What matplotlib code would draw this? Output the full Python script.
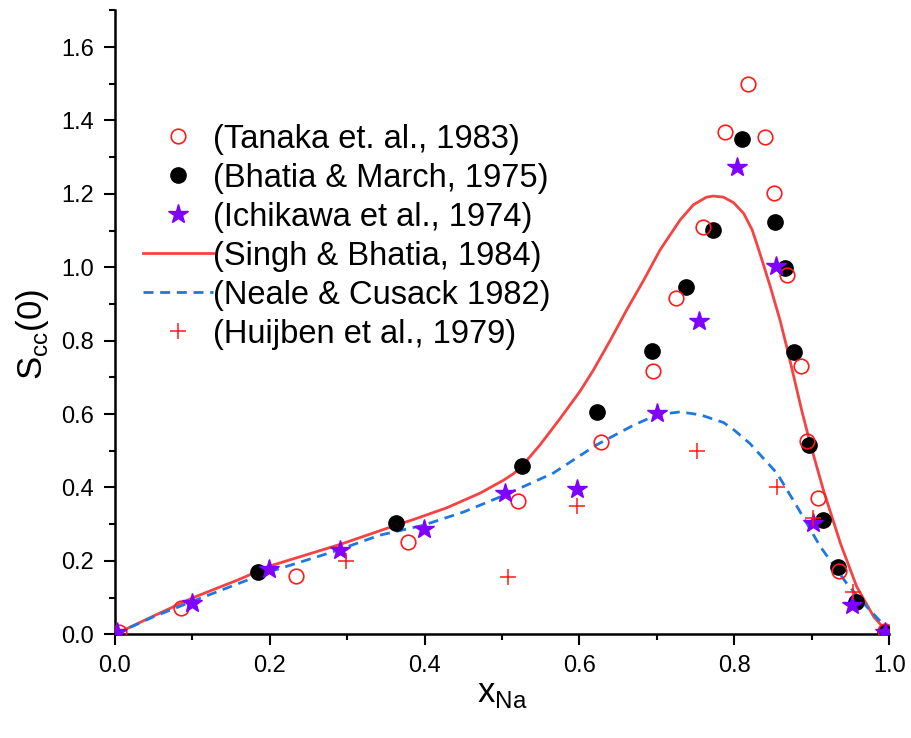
import numpy as np
import matplotlib
matplotlib.use("Agg")
import matplotlib.pyplot as plt
from matplotlib.ticker import MultipleLocator, FormatStrFormatter

plt.rcParams["font.family"] = ["Liberation Sans", "DejaVu Sans"]

# Tanaka et al. 1983 (open circles)
tanaka_x = [0.005, 0.085, 0.234, 0.379, 0.521, 0.628, 0.695, 0.725, 0.760, 0.788,
            0.817, 0.840, 0.851, 0.868, 0.886, 0.894, 0.908, 0.935, 0.995]
tanaka_y = [0.005, 0.072, 0.159, 0.252, 0.363, 0.524, 0.718, 0.917, 1.110, 1.369,
            1.499, 1.355, 1.203, 0.979, 0.731, 0.527, 0.372, 0.172, 0.008]

# Bhatia & March 1975 (filled circles)
bhatia_x = [0.185, 0.363, 0.526, 0.623, 0.694, 0.738, 0.773, 0.810, 0.853, 0.866,
            0.877, 0.897, 0.915, 0.934, 0.957, 0.995]
bhatia_y = [0.170, 0.303, 0.459, 0.606, 0.772, 0.947, 1.102, 1.350, 1.123, 0.998,
            0.769, 0.516, 0.311, 0.184, 0.088, 0.006]

# Ichikawa et al. 1974 (stars)
ichi_x = [0.003, 0.099, 0.199, 0.291, 0.399, 0.504, 0.597, 0.700, 0.755, 0.804,
          0.854, 0.901, 0.952, 0.995]
ichi_y = [0.005, 0.086, 0.178, 0.230, 0.287, 0.385, 0.396, 0.603, 0.854, 1.273,
          1.004, 0.304, 0.080, 0.006]

# Huijben et al. 1979 (plus)
huij_x = [0.299, 0.508, 0.597, 0.752, 0.855, 0.901, 0.953]
huij_y = [0.200, 0.157, 0.350, 0.500, 0.401, 0.317, 0.115]

# Singh & Bhatia 1984 (solid line)
singh_x = [0.0, 0.05, 0.10, 0.161, 0.20, 0.291, 0.342, 0.364, 0.386, 0.429,
           0.472, 0.502, 0.515, 0.526, 0.549, 0.575, 0.601, 0.618, 0.640, 0.661,
           0.683, 0.704, 0.730, 0.747, 0.764, 0.773, 0.786, 0.799, 0.812, 0.823,
           0.833, 0.846, 0.859, 0.868, 0.877, 0.887, 0.898, 0.915, 0.937, 0.958,
           0.980, 0.997]
singh_y = [0.0, 0.050, 0.099, 0.150, 0.186, 0.245, 0.282, 0.298, 0.313, 0.345,
           0.385, 0.420, 0.438, 0.459, 0.516, 0.588, 0.663, 0.720, 0.802, 0.884,
           0.965, 1.047, 1.129, 1.170, 1.191, 1.194, 1.191, 1.176, 1.147, 1.102,
           1.038, 0.950, 0.856, 0.780, 0.700, 0.610, 0.520, 0.393, 0.248, 0.130,
           0.048, 0.007]

# Neale & Cusack 1982 (dashed line)
neale_x = [0.0, 0.05, 0.11, 0.196, 0.282, 0.342, 0.398, 0.45, 0.504, 0.566,
           0.622, 0.670, 0.700, 0.730, 0.756, 0.786, 0.800, 0.820, 0.855, 0.881,
           0.911, 0.945, 0.971, 0.995]
neale_y = [0.0, 0.048, 0.098, 0.168, 0.225, 0.270, 0.297, 0.333, 0.380, 0.439,
           0.516, 0.570, 0.598, 0.606, 0.598, 0.577, 0.556, 0.520, 0.439, 0.348,
           0.239, 0.139, 0.075, 0.021]

fig = plt.figure(figsize=(9.12, 7.38), dpi=100)
ax = fig.add_axes([0.126, 0.1405, 0.849, 0.8455])

h_t, = ax.plot(tanaka_x, tanaka_y, "o", ms=10.5, mfc="none", mec="#ff1a1a", mew=1.2,
               zorder=4, label="(Tanaka et. al., 1983)")
h_b, = ax.plot(bhatia_x, bhatia_y, "o", ms=11, color="black", zorder=3,
               label="(Bhatia & March, 1975)")
h_i, = ax.plot(ichi_x, ichi_y, "*", ms=15, color="#8000ff", mec="#8000ff", zorder=5,
               label="(Ichikawa et al., 1974)")
h_s, = ax.plot(singh_x, singh_y, "-", color="#f54242", lw=2.0, zorder=2,
               label="(Singh & Bhatia, 1984)")
h_n, = ax.plot(neale_x, neale_y, "--", color="#1f78e0", lw=2.0, dashes=(3.6, 2.4),
               zorder=2, label="(Neale & Cusack 1982)")
h_h, = ax.plot(huij_x, huij_y, "+", ms=12, mew=1.1, color="#ff1a1a", zorder=6,
               label="(Huijben et al., 1979)")

ax.set_xlim(0, 1.0)
ax.set_ylim(0, 1.7)
ax.xaxis.set_major_locator(MultipleLocator(0.2))
ax.xaxis.set_minor_locator(MultipleLocator(0.1))
ax.yaxis.set_major_locator(MultipleLocator(0.2))
ax.yaxis.set_minor_locator(MultipleLocator(0.1))
ax.xaxis.set_major_formatter(FormatStrFormatter("%.1f"))
ax.yaxis.set_major_formatter(FormatStrFormatter("%.1f"))

for side in ["top", "right"]:
    ax.spines[side].set_visible(False)
for side in ["left", "bottom"]:
    ax.spines[side].set_linewidth(1.8)

ax.tick_params(which="major", direction="out", length=8, width=1.5,
               labelsize=17, pad=7)
ax.tick_params(which="minor", direction="out", length=4.5, width=1.5)

ax.set_xlabel("x$_\\mathregular{Na}$", fontsize=25, labelpad=0)
ax.set_ylabel("S$_\\mathregular{cc}$(0)", fontsize=25)
ax.yaxis.set_label_coords(-0.082, 0.48)

ax.legend(handles=[h_t, h_b, h_i, h_s, h_n, h_h], loc="upper left",
          bbox_to_anchor=(0.036, 0.818), frameon=False, fontsize=23.5,
          handlelength=2.15, handletextpad=0.0, labelspacing=0.245,
          borderaxespad=0, borderpad=0)

fig.savefig("out.png", dpi=100)
